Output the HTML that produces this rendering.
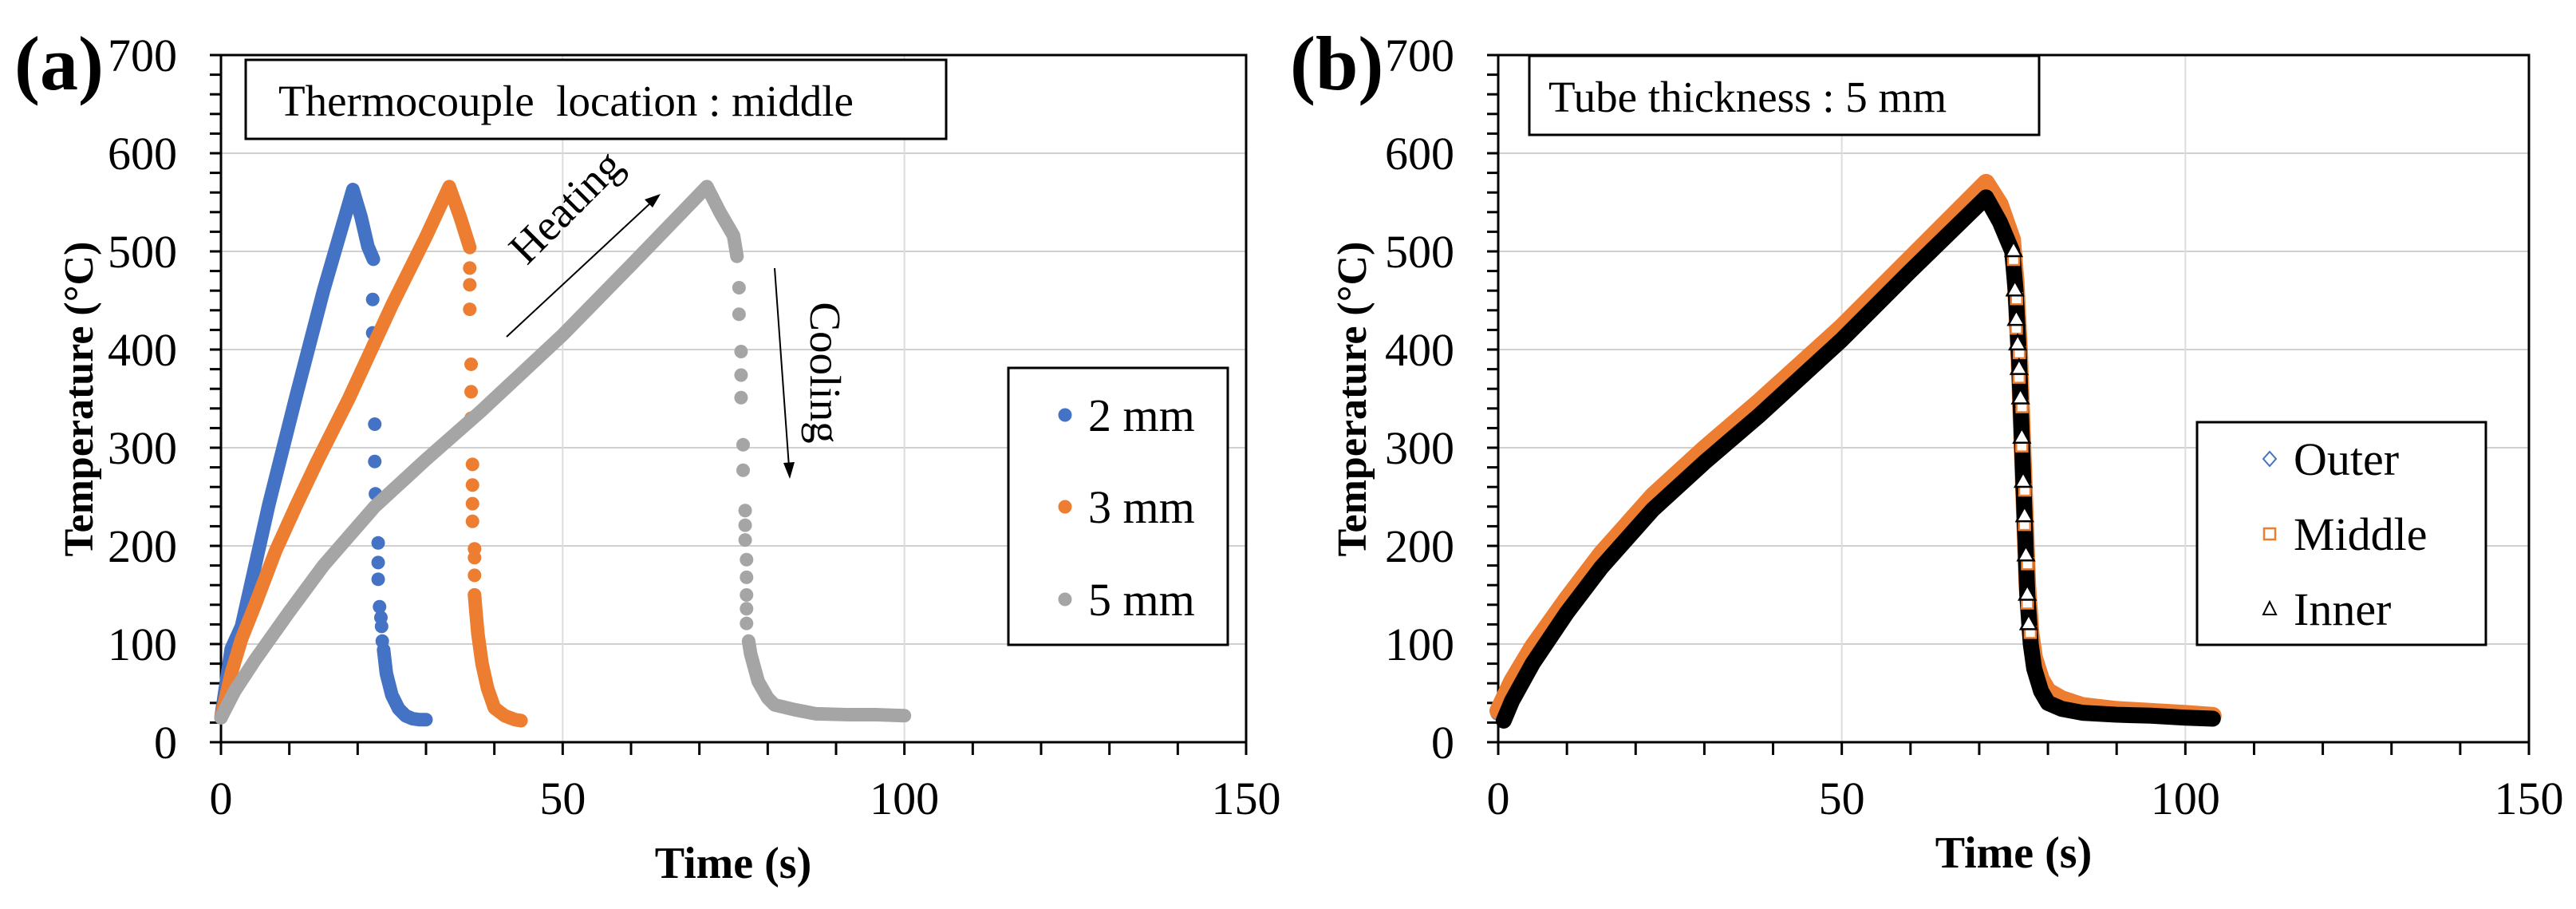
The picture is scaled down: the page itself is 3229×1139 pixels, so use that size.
<!DOCTYPE html>
<html><head><meta charset="utf-8"><style>
html,body{margin:0;padding:0;background:#fff}
svg,svg text{font-family:"Liberation Serif","DejaVu Serif","Noto Serif CJK SC",serif}
</style></head><body>
<svg id="fig" width="3229" height="1134" viewBox="0 0 3229 1134" xmlns="http://www.w3.org/2000/svg">
<rect width="3229" height="1134" fill="#fff"/>
<g id="pa"></g>
<g id="pb"></g>
</svg>
<script>
// ---- Panel (a) data
const t2Dense = [0, 1.5, 3, 7, 10.9, 15, 19.3, 20.5, 21.5, 22.3];
const y2Dense = [25, 95, 118, 242, 350, 460, 563, 535, 505, 492];
const t2Dots = [22.2, 22.2, 22.5, 22.5, 22.6, 23, 23, 23, 23.2, 23.4, 23.5, 23.6, 23.8];
const y2Dots = [451, 417, 324, 286, 253, 203, 183, 166, 138, 127, 118, 103, 94];
const t2Tail = [23.8, 24.2, 25, 26, 27, 28, 29, 30];
const y2Tail = [94, 70, 48, 34, 27, 24, 23, 23];

const t3Dense = [0, 1.5, 3, 5, 8, 11, 14, 18.7, 25, 30, 33.4, 35, 36.4];
const y3Dense = [25, 70, 105, 140, 195, 241, 285, 350, 445, 515, 566, 535, 504];
const t3Dots = [36.4, 36.4, 36.4, 36.6, 36.6, 36.6, 36.8, 36.8, 36.8, 36.8, 37.1, 37.1, 37.1, 37.1];
const y3Dots = [483, 466, 441, 385, 357, 330, 283, 262, 243, 225, 197, 188, 170, 150];
const t3Tail = [37.1, 37.3, 37.6, 38.2, 39, 40, 41.5, 43, 43.9];
const y3Tail = [150, 133, 110, 80, 55, 35, 27, 23, 22];

const t5Dense = [0, 2, 5, 10, 15, 22.5, 30, 38, 50, 60, 71.1, 73, 75, 75.5];
const y5Dense = [25, 52, 84, 133, 180, 240, 288, 337, 415, 486, 566, 540, 516, 495];
const t5Dots = [75.8, 75.8, 76.1, 76.1, 76.1, 76.4, 76.4, 76.7, 76.7, 76.7, 76.9, 76.9, 76.9, 76.9, 76.9];
const y5Dots = [463, 436, 398, 374, 351, 303, 277, 236, 221, 206, 186, 168, 150, 136, 121];
const t5Tail = [77.2, 77.5, 78.6, 80, 81, 84, 87, 92, 96, 100];
const y5Tail = [103, 90, 62, 45, 38, 33, 29, 28, 28, 27];

// ---- Panel (b) data
const tOut = [0, 2, 5, 10, 15, 22.5, 30, 38, 50, 60, 71, 73, 74.8, 75.3, 75.8, 76.2, 76.6, 77, 77.5, 78, 79, 80, 82, 85, 90, 95, 100, 104];
const yOut = [30, 60, 94, 143, 189, 248, 296, 344, 420, 490, 568, 545, 510, 470, 400, 320, 240, 160, 110, 85, 62, 50, 42, 36, 32, 30, 28, 26];
const tMid = [0, 2, 5, 10, 15, 22.5, 30, 38, 50, 60, 71, 73, 74.8, 75.3, 75.8, 76.2, 76.6, 77, 77.5, 78, 79, 80, 82, 85, 90, 95, 100, 104];
const yMid = [32, 62, 97, 146, 192, 251, 299, 347, 423, 493, 570, 548, 512, 470, 400, 320, 240, 160, 110, 86, 64, 52, 44, 37, 33, 31, 29, 27];
const tIn = [0.8, 2, 5, 10, 15, 22.5, 30, 38, 50, 60, 71, 73, 74.8, 75.3, 75.8, 76.2, 76.6, 77, 77.5, 78, 79, 80, 82, 85, 90, 95, 100, 104];
const yIn = [22, 42, 80, 132, 178, 237, 285, 333, 410, 480, 555, 530, 500, 460, 390, 310, 230, 150, 100, 75, 52, 40, 34, 30, 28, 27, 25, 24];
const tCoolMarks = [75.0, 75.2, 75.4, 75.6, 75.8, 76.0, 76.2, 76.4, 76.6, 76.8, 77.0, 77.2];
const yCoolMarks = [500, 460, 430, 405, 380, 350, 310, 265, 230, 190, 150, 120];

const xTicks = [0, 50, 100, 150];
const yTicks = [0, 100, 200, 300, 400, 500, 600, 700];

const NS = "http://www.w3.org/2000/svg";
const FF = '"Liberation Serif", "DejaVu Serif", "Noto Serif CJK SC", serif';
function mk(parent, tag, attrs, text) {
  const e = document.createElementNS(NS, tag);
  for (const k in attrs) e.setAttribute(k, attrs[k]);
  if (text !== undefined) { e.textContent = text; e.setAttribute("font-family", FF); e.style.fontFamily = FF; }
  parent.appendChild(e);
  return e;
}

function axes(g, L, R, T, B) {
  const sx = v => L + (v / 150) * (R - L);
  const sy = v => B - (v / 700) * (B - T);
  for (const v of [100, 200, 300, 400, 500, 600]) {
    const l = mk(g, "line", {x1: L, x2: R, y1: sy(v), y2: sy(v), stroke: "#d0d0d0", "stroke-width": 2});
    
    
  }
  for (const v of [50, 100]) {
    const l = mk(g, "line", {x1: sx(v), x2: sx(v), y1: T, y2: B, stroke: "#dcdcdc", "stroke-width": 2});
    
    
  }
  const fr = mk(g, "rect", {x: L, y: T, width: R - L, height: B - T, fill: "none", stroke: "#000", "stroke-width": 3});
  
  
  for (let v = 0; v <= 700; v += 20) {
    const t = mk(g, "line", {x1: L - 14, x2: L, y1: sy(v), y2: sy(v), stroke: "#000", "stroke-width": 3});
    
    
  }
  for (let v = 0; v <= 150; v += 10) {
    const t = mk(g, "line", {x1: sx(v), x2: sx(v), y1: B, y2: B + 16, stroke: "#000", "stroke-width": 3});
    
    
  }
  for (const v of yTicks) {
    const t = mk(g, "text", {x: L - 55, y: sy(v) + 20, "text-anchor": "end", "font-size": 58}, String(v));
    
    
  }
  for (const v of xTicks) {
    const t = mk(g, "text", {x: sx(v), y: 1020, "text-anchor": "middle", "font-size": 58}, String(v));
    
    
  }
  return {sx, sy};
}

function poly(g, sx, sy, ts, ys, color, w, name) {
  const pts = ts.map((t, i) => sx(t) + "," + sy(ys[i])).join(" ");
  const p = mk(g, "polyline", {points: pts, fill: "none", stroke: color, "stroke-width": w, "stroke-linecap": "round", "stroke-linejoin": "round"});
  
  
}
function dots(g, sx, sy, ts, ys, color, name) {
  ts.forEach((t, i) => {
    const c = mk(g, "circle", {cx: sx(t), cy: sy(ys[i]), r: 8.5, fill: color});
    
    
  });
}

// ===== Panel A =====
(function () {
  const g = document.getElementById("pa");
  const {sx, sy} = axes(g, 277, 1562, 69, 930);
  const blue = "#4472c4", orange = "#ed7d31", gray = "#a5a5a5";
  poly(g, sx, sy, t2Dense, y2Dense, blue, 17, "series-2mm-heating");
  dots(g, sx, sy, t2Dots, y2Dots, blue, "series-2mm-point");
  poly(g, sx, sy, t2Tail, y2Tail, blue, 17, "series-2mm-tail");
  poly(g, sx, sy, t3Dense, y3Dense, orange, 17, "series-3mm-heating");
  dots(g, sx, sy, t3Dots, y3Dots, orange, "series-3mm-point");
  poly(g, sx, sy, t3Tail, y3Tail, orange, 17, "series-3mm-tail");
  poly(g, sx, sy, t5Dense, y5Dense, gray, 17, "series-5mm-heating");
  dots(g, sx, sy, t5Dots, y5Dots, gray, "series-5mm-point");
  poly(g, sx, sy, t5Tail, y5Tail, gray, 17, "series-5mm-tail");

  const tb = mk(g, "rect", {x: 308, y: 75, width: 878, height: 99, fill: "#fff", stroke: "#000", "stroke-width": 3});
  
  
  const tt = mk(g, "text", {x: 349, y: 145, "font-size": 55}, "Thermocouple\u00a0 location : middle");
  
  

  const ah = mk(g, "line", {x1: 635, y1: 422, x2: 818, y2: 252, stroke: "#000", "stroke-width": 2});
  
  
  const ahh = mk(g, "polygon", {points: "828,243 808,250 818,260", fill: "#000"});
  
  
  const ht = mk(g, "text", {x: 0, y: 0, "font-size": 55, "text-anchor": "middle", transform: "translate(722,272) rotate(-45)"}, "Heating");
  
  
  const ac = mk(g, "line", {x1: 971, y1: 336, x2: 989, y2: 585, stroke: "#000", "stroke-width": 2});
  
  
  const ach = mk(g, "polygon", {points: "990,600 982,580 996,579", fill: "#000"});
  
  
  const ct = mk(g, "text", {x: 0, y: 0, "font-size": 55, "text-anchor": "middle", transform: "translate(1016,467) rotate(90)"}, "Cooling");
  
  

  const lg = mk(g, "rect", {x: 1264, y: 461, width: 275, height: 347, fill: "#fff", stroke: "#000", "stroke-width": 3});
  
  
  [["2 mm", blue, 520], ["3 mm", orange, 635], ["5 mm", gray, 751]].forEach(([lab, col, y]) => {
    const c = mk(g, "circle", {cx: 1335, cy: y, r: 8.5, fill: col});
    
    
    const t = mk(g, "text", {x: 1364, y: y + 20, "font-size": 58}, lab);
    
    
  });

  const xl = mk(g, "text", {x: 919, y: 1100, "text-anchor": "middle", "font-size": 56, "font-weight": "bold"}, "Time (s)");
  
  
  const yl = mk(g, "text", {x: 0, y: 0, "text-anchor": "middle", "font-size": 52, "font-weight": "bold", transform: "translate(116,500) rotate(-90)"}, "Temperature (°C)");
  
  
  const pl = mk(g, "text", {x: 18, y: 112, "font-size": 96, "font-weight": "bold"}, "(a)");
  
  
})();

// ===== Panel B =====
(function () {
  const g = document.getElementById("pb");
  const {sx, sy} = axes(g, 1878, 3170, 69, 930);
  const blue = "#4472c4", orange = "#ed7d31";
  poly(g, sx, sy, tOut, yOut, blue, 20, "series-outer");
  poly(g, sx, sy, tMid, yMid, orange, 22, "series-middle");
  poly(g, sx, sy, tIn, yIn, "#000", 20, "series-inner");
  tCoolMarks.forEach((t, i) => {
    const x = sx(t), y = sy(yCoolMarks[i]);
    const s = mk(g, "rect", {x: x - 7 + (i % 2) * 2, y: y - 7 + 10, width: 14, height: 14, fill: "#fff", stroke: orange, "stroke-width": 2.5});
    
    
    const tr = mk(g, "polygon", {points: `${x},${y - 12} ${x - 10},${y + 6} ${x + 10},${y + 6}`, fill: "#fff", stroke: "#000", "stroke-width": 2.5});
    
    
  });

  const tb = mk(g, "rect", {x: 1917, y: 70, width: 639, height: 99, fill: "#fff", stroke: "#000", "stroke-width": 3});
  
  
  const tt = mk(g, "text", {x: 1941, y: 140, "font-size": 55}, "Tube thickness : 5 mm");
  
  

  const lg = mk(g, "rect", {x: 2754, y: 529, width: 362, height: 279, fill: "#fff", stroke: "#000", "stroke-width": 3});
  
  
  const m1 = mk(g, "polygon", {points: "2845,566 2853,575 2845,584 2837,575", fill: "none", stroke: blue, "stroke-width": 2});
  
  
  const m2 = mk(g, "rect", {x: 2838, y: 662, width: 14, height: 14, fill: "none", stroke: orange, "stroke-width": 2.5});
  
  
  const m3 = mk(g, "polygon", {points: "2845,754 2837,770 2853,770", fill: "none", stroke: "#000", "stroke-width": 2});
  
  
  [["Outer", 575], ["Middle", 669], ["Inner", 763]].forEach(([lab, y]) => {
    const t = mk(g, "text", {x: 2875, y: y + 20, "font-size": 58}, lab);
    
    
  });

  const xl = mk(g, "text", {x: 2524, y: 1087, "text-anchor": "middle", "font-size": 56, "font-weight": "bold"}, "Time (s)");
  
  
  const yl = mk(g, "text", {x: 0, y: 0, "text-anchor": "middle", "font-size": 52, "font-weight": "bold", transform: "translate(1712,500) rotate(-90)"}, "Temperature (°C)");
  
  
  const pl = mk(g, "text", {x: 1617, y: 112, "font-size": 96, "font-weight": "bold"}, "(b)");
  
  
})();
</script>
</body></html>
